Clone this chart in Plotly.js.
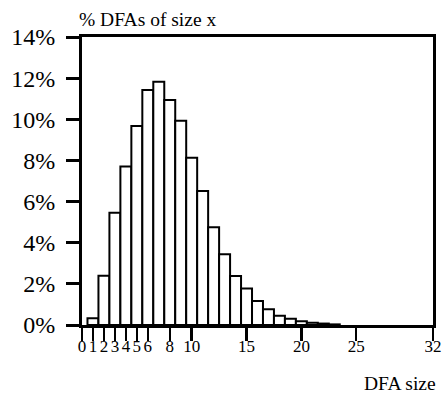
<!DOCTYPE html>
<html>
<head>
<meta charset="utf-8">
<script src="https://cdn.plot.ly/plotly-3.0.1.min.js"></script>
<style>html,body{margin:0;padding:0;background:#fff;}#chart{width:442px;height:396px;}</style>
</head>
<body>
<div id="chart"></div>
<script>
const dfaSizes = [1, 2, 3, 4, 5, 6, 7, 8, 9, 10, 11, 12, 13, 14, 15, 16, 17, 18, 19, 20, 21, 22, 23];
const pctOfDfas = [0.33, 2.40, 5.46, 7.70, 9.67, 11.42, 11.83, 10.94, 9.93, 8.13, 6.51, 4.75, 3.44, 2.38, 1.77, 1.17, 0.76, 0.45, 0.30, 0.18, 0.11, 0.07, 0.03];
const xTickVals = [0, 1, 2, 3, 4, 5, 6, 8, 10, 15, 20, 25, 32];
const xTickText = ['0', '1', '2', '3', '4', '5', '6', '8', '10', '15', '20', '25', '32'];
const yTickVals = [0, 2, 4, 6, 8, 10, 12, 14];
const yTickText = ['0%', '2%', '4%', '6%', '8%', '10%', '12%', '14%'];

const FONT = 'Liberation Serif';

const trace = {
  type: 'bar',
  x: dfaSizes,
  y: pctOfDfas,
  width: 1,
  marker: {color: '#ffffff', line: {color: '#000000', width: 2}},
  hoverinfo: 'skip'
};

const layout = {
  width: 442, height: 396,
  margin: {l: 82, r: 9, t: 37, b: 71, pad: 0},
  paper_bgcolor: '#ffffff', plot_bgcolor: '#ffffff',
  showlegend: false,
  bargap: 0,
  font: {family: FONT, color: '#000'},
  xaxis: {
    range: [0, 32], fixedrange: true,
    tickmode: 'array', tickvals: xTickVals, ticktext: xTickText,
    ticks: 'outside', ticklen: 13, tickwidth: 2.5, tickcolor: '#000',
    ticklabelstandoff: -9,
    showline: true, linewidth: 3, linecolor: '#000', mirror: true,
    showgrid: false, zeroline: false,
    tickfont: {family: FONT, size: 17, color: '#000'}
  },
  yaxis: {
    range: [0, 14], fixedrange: true,
    tickmode: 'array', tickvals: yTickVals, ticktext: yTickText,
    ticks: 'outside', ticklen: 13, tickwidth: 3, tickcolor: '#000',
    ticklabelstandoff: 6,
    showline: true, linewidth: 3, linecolor: '#000', mirror: true,
    showgrid: false, zeroline: false,
    tickfont: {family: FONT, size: 24, color: '#000'}
  },
  annotations: [
    {text: '% DFAs of size x', xref: 'paper', yref: 'paper', x: 0, y: 1,
     xanchor: 'left', yanchor: 'middle', xshift: -5, yshift: 18, showarrow: false,
     font: {family: FONT, size: 19.5, color: '#000'}},
    {text: 'DFA size', xref: 'paper', yref: 'paper', x: 1, y: 0,
     xanchor: 'right', yanchor: 'middle', xshift: 5, yshift: -58, showarrow: false,
     font: {family: FONT, size: 19.5, color: '#000'}}
  ]
};

Plotly.newPlot('chart', [trace], layout, {displayModeBar: false, staticPlot: true});
</script>
</body>
</html>
